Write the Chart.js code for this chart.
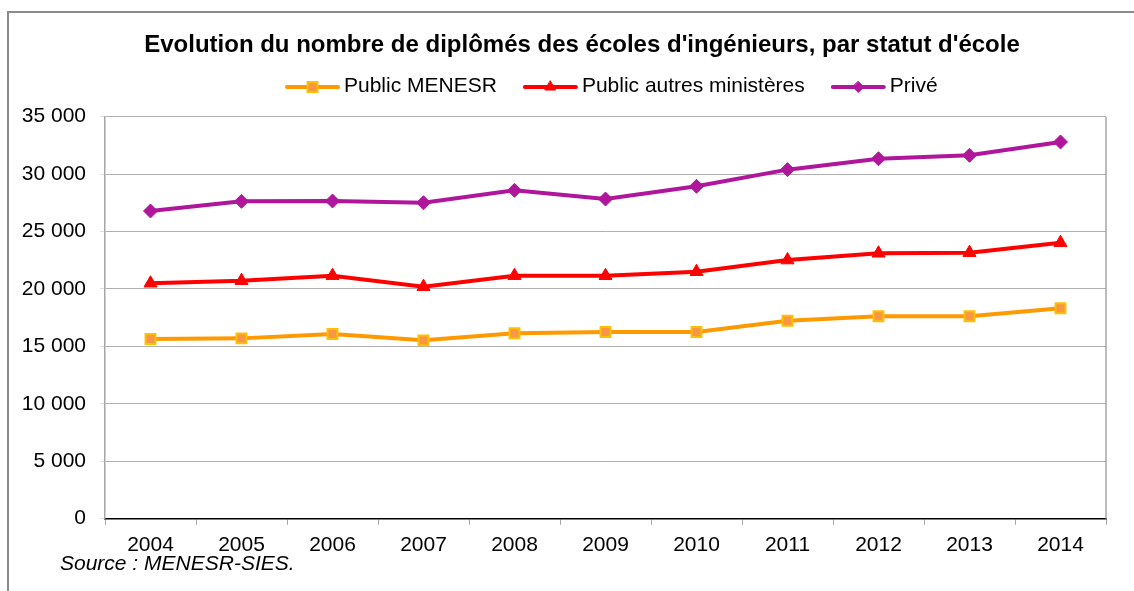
<!DOCTYPE html>
<html>
<head>
<meta charset="utf-8">
<script src="https://cdn.jsdelivr.net/npm/chart.js@4/dist/chart.umd.min.js"></script>
<style>
  html, body { margin: 0; padding: 0; background: #fff; overflow: hidden; }
  #wrap { position: relative; width: 1134px; height: 591px; overflow: hidden; }
  #frame { position: absolute; left: 7px; top: 11px; width: 2000px; height: 2000px; border: 2px solid #8a8a8a; box-sizing: border-box; }
  canvas { position: absolute; left: 0; top: 0; }
</style>
</head>
<body>
<div id="wrap">
  <div id="frame"></div>
  <canvas id="c" width="1134" height="591"></canvas>
</div>
<script>
// ---- Data ----
const years = ['2004','2005','2006','2007','2008','2009','2010','2011','2012','2013','2014'];
const publicMenesr = [15650, 15700, 16080, 15530, 16140, 16250, 16250, 17240, 17620, 17620, 18320];
const publicAutres = [20500, 20720, 21160, 20200, 21160, 21150, 21500, 22520, 23110, 23160, 24030];
const prive = [26790, 27630, 27660, 27510, 28590, 27830, 28940, 30390, 31340, 31640, 32800];
const yTickLabels = ['0', '5 000', '10 000', '15 000', '20 000', '25 000', '30 000', '35 000'];
const seriesNames = ['Public MENESR', 'Public autres ministères', 'Privé'];
const titleText = "Evolution du nombre de diplômés des écoles d'ingénieurs, par statut d'école";
const sourceText = 'Source : MENESR-SIES.';

const FONT = "'Liberation Sans', Arial, Helvetica, sans-serif";

function drawMarkerPath(ctx, style, r, x, y) {
  if (style === 'rect') {
    const s = r * Math.SQRT1_2;
    ctx.rect(x - s, y - s, 2 * s, 2 * s);
  } else if (style === 'rectRot') {
    ctx.moveTo(x, y - r); ctx.lineTo(x + r, y); ctx.lineTo(x, y + r); ctx.lineTo(x - r, y); ctx.closePath();
  } else if (style === 'triangle') {
    ctx.moveTo(x, y - r);
    ctx.lineTo(x + r * Math.sin(2 * Math.PI / 3), y + r / 2);
    ctx.lineTo(x - r * Math.sin(2 * Math.PI / 3), y + r / 2);
    ctx.closePath();
  }
}

const legendPlugin = {
  id: 'customLegend',
  afterDraw(chart) {
    const ctx = chart.ctx;
    const y = 86.5;
    let x = 285;
    ctx.save();
    ctx.font = '21px ' + FONT;
    ctx.textBaseline = 'middle';
    ctx.textAlign = 'left';
    chart.data.datasets.forEach((ds) => {
      ctx.strokeStyle = ds.borderColor;
      ctx.lineWidth = 4;
      ctx.lineCap = 'round';
      ctx.beginPath();
      ctx.moveTo(x + 2, y + 0.5);
      ctx.lineTo(x + 53, y + 0.5);
      ctx.stroke();
      ctx.fillStyle = ds.pointBackgroundColor;
      ctx.strokeStyle = ds.pointBorderColor;
      ctx.lineWidth = ds.pointBorderWidth;
      ctx.beginPath();
      drawMarkerPath(ctx, ds.pointStyle, ds.legendRadius, x + 27.5, y + 0.5);
      ctx.fill();
      ctx.stroke();
      ctx.fillStyle = '#000';
      ctx.fillText(ds.label, x + 59, y);
      x += 59 + ctx.measureText(ds.label).width + 26;
    });
    ctx.restore();
  }
};

// Position the title and the source line horizontally like the original
const placeBlocks = {
  id: 'placeBlocks',
  afterLayout(chart) {
    if (chart.titleBlock) { chart.titleBlock.left = 60; chart.titleBlock.right = 1104; }
    chart.boxes.forEach((b) => {
      if (b !== chart.titleBlock && b.options && b.options.text === sourceText) {
        b.left = 60;
      }
    });
  }
};

const borderPlugin = {
  id: 'plotRightBorder',
  beforeDatasetsDraw(chart) {
    const {ctx, chartArea} = chart;
    ctx.save();
    ctx.strokeStyle = '#a6a6a6';
    ctx.lineWidth = 1.5;
    ctx.beginPath();
    ctx.moveTo(chartArea.right, chartArea.top);
    ctx.lineTo(chartArea.right, chartArea.bottom);
    ctx.stroke();
    ctx.restore();
  }
};

new Chart(document.getElementById('c'), {
  type: 'line',
  data: {
    labels: years,
    datasets: [
      {
        label: seriesNames[0], data: publicMenesr,
        borderColor: '#ff9900', borderWidth: 4,
        pointStyle: 'rect', pointRadius: 7, legendRadius: 7,
        pointBackgroundColor: '#f79646', pointBorderColor: '#ffc000', pointBorderWidth: 2
      },
      {
        label: seriesNames[1], data: publicAutres,
        borderColor: '#ff0000', borderWidth: 4,
        pointStyle: 'triangle', pointRadius: 7.5, legendRadius: 6,
        pointBackgroundColor: '#ff0000', pointBorderColor: '#ff0000', pointBorderWidth: 1
      },
      {
        label: seriesNames[2], data: prive,
        borderColor: '#b0169b', borderWidth: 4,
        pointStyle: 'rectRot', pointRadius: 7, legendRadius: 5.5,
        pointBackgroundColor: '#b0169b', pointBorderColor: '#b0169b', pointBorderWidth: 1
      }
    ]
  },
  options: {
    responsive: false,
    animation: false,
    devicePixelRatio: 1,
    layout: { padding: { left: 0, right: 28, top: 0, bottom: 0 } },
    elements: { line: { tension: 0 } },
    plugins: {
      legend: { display: false },
      tooltip: { enabled: false },
      title: {
        display: true, text: titleText, color: '#000',
        font: { family: FONT, size: 24, weight: 'bold' },
        padding: { top: 31.1, bottom: 56.8 }
      },
      subtitle: {
        display: true, text: sourceText, position: 'bottom', align: 'start', color: '#000',
        font: { family: FONT, size: 21, style: 'italic' },
        padding: { top: -3.1, bottom: 14.2 }
      }
    },
    scales: {
      x: {
        offset: true,
        grid: { display: true, drawOnChartArea: false, drawTicks: true, tickLength: 6, color: '#a6a6a6', offset: true },
        border: { display: true, color: '#000', width: 1.5 },
        ticks: { color: '#000', font: { family: FONT, size: 21 }, padding: 8, maxRotation: 0, autoSkip: false },
        afterFit(scale) { scale.height = 36; }
      },
      y: {
        min: 0, max: 35000,
        grid: { color: '#b0b0b0', lineWidth: 1, drawTicks: true, tickLength: 5, tickColor: '#dedede' },
        border: { display: true, color: '#a6a6a6', width: 1.5 },
        ticks: {
          stepSize: 5000, color: '#000', font: { family: FONT, size: 21 }, padding: 14,
          callback: (v) => yTickLabels[Math.round(v / 5000)]
        },
        afterFit(scale) { scale.width = 105; }
      }
    }
  },
  plugins: [legendPlugin, placeBlocks, borderPlugin]
});
</script>
</body>
</html>
